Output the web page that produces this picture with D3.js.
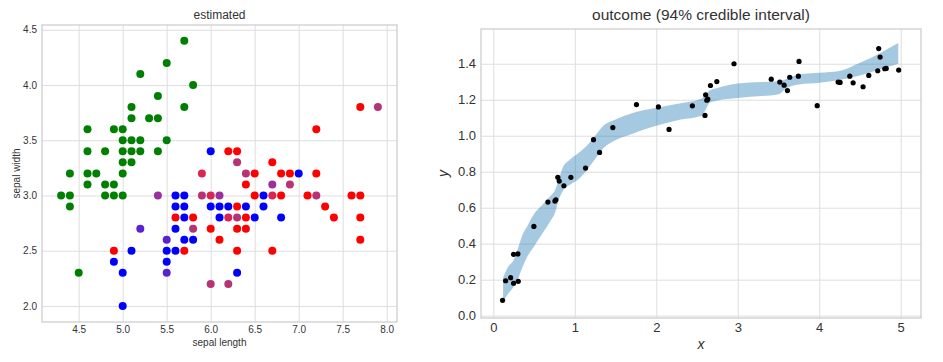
<!DOCTYPE html>
<html>
<head>
<meta charset="utf-8">
<script src="https://cdn.jsdelivr.net/npm/d3@7"></script>
<style>
  body { margin: 0; background: #fff; }
  text { font-family: "Liberation Sans", Arial, sans-serif; fill: #333; }
  .grid line { stroke: #dedede; stroke-width: 1; }
  .grid .domain { display: none; }
</style>
</head>
<body>
<div id="chart"></div>
<script>
var svgWidth = 943;
var svgHeight = 362;

// left panel: sepal length / width, colour = estimated cluster
var sepalLength = [
  5.7, 5.5, 5.2, 5.8, 5.4, 5.7, 5.1, 5.1, 5.3, 5.4, 4.6, 4.9, 5.0, 5.0, 5.1, 5.2, 5.5,
  4.6, 4.8, 5.0, 5.1, 5.2, 5.4, 5.0, 5.1, 4.4, 4.6, 4.7, 5.0, 4.6, 4.8, 4.9,
  4.3, 4.4, 4.8, 4.9, 5.0, 4.4, 4.5,
  7.7, 7.9, 7.2, 6.0, 6.2, 6.3, 6.3, 6.7,
  5.9, 6.4, 6.5, 6.8, 6.9, 7.0, 7.2, 6.4, 6.7, 6.9,
  5.4, 5.6, 5.7, 5.9, 6.0, 6.1, 6.5, 6.6, 6.7, 6.8, 7.1, 7.2, 7.6, 7.7,
  5.6, 5.7, 6.0, 6.1, 6.2, 6.3, 6.4, 6.6, 7.3,
  5.6, 5.7, 5.8, 6.1, 6.2, 6.3, 6.4, 6.5, 6.8, 7.4, 7.7,
  5.2, 5.6, 5.8, 6.0, 6.3, 6.4,
  5.5, 5.7, 5.8, 6.1, 7.7,
  4.9, 5.1, 5.5, 5.6, 5.7, 6.3, 6.7,
  4.9, 5.5, 5.0, 5.5, 6.3, 6.0, 6.2, 5.0
];
var sepalWidth = [
  4.4, 4.2, 4.1, 4.0, 3.9, 3.8, 3.8, 3.7, 3.7, 3.7, 3.6, 3.6, 3.6, 3.5, 3.5, 3.5, 3.5,
  3.4, 3.4, 3.4, 3.4, 3.4, 3.4, 3.3, 3.3, 3.2, 3.2, 3.2, 3.2, 3.1, 3.1, 3.1,
  3.0, 3.0, 3.0, 3.0, 3.0, 2.9, 2.3,
  3.8, 3.8, 3.6, 3.4, 3.4, 3.4, 3.3, 3.3,
  3.2, 3.2, 3.2, 3.2, 3.2, 3.2, 3.2, 3.1, 3.1, 3.1,
  3.0, 3.0, 3.0, 3.0, 3.0, 3.0, 3.0, 3.0, 3.0, 3.0, 3.0, 3.0, 3.0, 3.0,
  2.9, 2.9, 2.9, 2.9, 2.9, 2.9, 2.9, 2.9, 2.9,
  2.8, 2.8, 2.8, 2.8, 2.8, 2.8, 2.8, 2.8, 2.8, 2.8, 2.8,
  2.7, 2.7, 2.7, 2.7, 2.7, 2.7,
  2.6, 2.6, 2.6, 2.6, 2.6,
  2.5, 2.5, 2.5, 2.5, 2.5, 2.5, 2.5,
  2.4, 2.4, 2.3, 2.3, 2.3, 2.2, 2.2, 2.0
];
var cluster = [
  "g","g","g","g","g","g","g","g","g","g","g","g","g","g","g","g","g",
  "g","g","g","g","g","g","g","g","g","g","g","g","g","g","g",
  "g","g","g","g","g","g","g",
  "r","m","r","b","r","r","m","r",
  "c","m","r","r","r","b","r","r","p","m",
  "p","b","b","m","c","p","r","b","c","r","r","m","r","r",
  "b","b","b","b","b","r","b","b","r",
  "r","b","r","b","c","m","r","b","b","r","r",
  "i","b","m","r","r","r",
  "i","b","b","r","r",
  "r","b","b","b","r","r","r",
  "b","b","b","i","b","m","m","b"
];
var clusterColors = { g: "#008000", b: "#0000ff", r: "#ff0000", i: "#5a22d2", p: "#9a2f9e", m: "#b83374", c: "#da2553" };

var leftXTicks = [4.5, 5.0, 5.5, 6.0, 6.5, 7.0, 7.5, 8.0];
var leftYTicks = [2.0, 2.5, 3.0, 3.5, 4.0, 4.5];

// right panel: observations and 94% band
var obsX = [0.114, 0.151, 0.212, 0.249, 0.306, 0.249, 0.302, 0.498, 0.670, 0.756, 0.768, 0.792, 0.809, 0.866, 0.952,
  1.132, 1.230, 1.304, 1.467, 1.757, 2.026, 2.157, 2.443, 2.598, 2.606, 2.620, 2.632, 2.665, 2.743, 2.954,
  3.411, 3.516, 3.569, 3.610, 3.638, 3.744, 3.752, 3.975, 4.232, 4.256, 4.375, 4.416, 4.538, 4.608,
  4.718, 4.730, 4.747, 4.804, 4.822, 4.975];
var obsY = [0.085, 0.194, 0.211, 0.180, 0.191, 0.341, 0.343, 0.496, 0.631, 0.637, 0.644, 0.769, 0.748, 0.722, 0.769,
  0.820, 0.978, 0.907, 1.045, 1.173, 1.160, 1.035, 1.166, 1.113, 1.227, 1.197, 1.203, 1.279, 1.301, 1.400,
  1.314, 1.298, 1.281, 1.251, 1.325, 1.331, 1.413, 1.167, 1.298, 1.296, 1.331, 1.294, 1.272, 1.335,
  1.361, 1.484, 1.437, 1.372, 1.374, 1.365];

var bandX = [0.12, 0.18, 0.25, 0.30, 0.35, 0.42, 0.50, 0.60, 0.70, 0.76, 0.80, 0.85, 0.95, 1.05, 1.15, 1.25, 1.35,
  1.50, 1.70, 2.00, 2.30, 2.55, 2.60, 2.65, 2.75, 3.00, 3.30, 3.50, 3.60, 3.75, 4.00, 4.25, 4.50, 4.75, 4.97];
var bandLow = [0.08, 0.12, 0.16, 0.20, 0.26, 0.33, 0.385, 0.455, 0.525, 0.575, 0.64, 0.69, 0.73, 0.76, 0.81, 0.87, 0.93,
  0.975, 1.01, 1.055, 1.09, 1.11, 1.14, 1.18, 1.195, 1.21, 1.22, 1.23, 1.265, 1.285, 1.295, 1.31, 1.335, 1.37, 1.40];
var bandHigh = [0.21, 0.27, 0.31, 0.37, 0.44, 0.50, 0.565, 0.615, 0.665, 0.70, 0.75, 0.82, 0.87, 0.905, 0.945, 1.00, 1.055,
  1.09, 1.125, 1.155, 1.18, 1.205, 1.225, 1.25, 1.265, 1.29, 1.298, 1.303, 1.315, 1.34, 1.35, 1.36, 1.405, 1.46, 1.515];

var rightXTicks = [0, 1, 2, 3, 4, 5];
var rightYTicks = [0.0, 0.2, 0.4, 0.6, 0.8, 1.0, 1.2, 1.4];

var svg = d3.select("#chart").append("svg")
  .attr("width", svgWidth)
  .attr("height", svgHeight);

// ---------- left panel ----------
var L = { left: 42, right: 397, top: 25, bottom: 322 };
var lw = L.right - L.left, lh = L.bottom - L.top;
var left = svg.append("g").attr("transform", `translate(${L.left}, ${L.top})`);

var xL = d3.scaleLinear().domain([4.083, 8.117]).range([0, lw]);
var yL = d3.scaleLinear().domain([1.855, 4.543]).range([lh, 0]);

left.append("g").attr("class", "grid")
  .attr("transform", `translate(0, ${lh})`)
  .call(d3.axisBottom(xL).tickValues(leftXTicks).tickFormat(d3.format(".1f"))
    .tickSizeInner(-lh).tickSizeOuter(0).tickPadding(4))
  .selectAll("text").style("font-size", "10px");

left.append("g").attr("class", "grid")
  .call(d3.axisLeft(yL).tickValues(leftYTicks).tickFormat(d3.format(".1f"))
    .tickSizeInner(-lw).tickSizeOuter(0).tickPadding(5))
  .selectAll("text").style("font-size", "10px");

left.append("rect")
  .attr("width", lw).attr("height", lh)
  .attr("fill", "none").attr("stroke", "#cccccc").attr("stroke-width", 1.25);

left.selectAll("circle")
  .data(d3.range(sepalLength.length))
  .enter()
  .append("circle")
  .attr("cx", i => xL(sepalLength[i]))
  .attr("cy", i => yL(sepalWidth[i]))
  .attr("r", 4)
  .attr("fill", i => clusterColors[cluster[i]]);

left.append("text")
  .attr("x", lw / 2).attr("y", -6)
  .attr("text-anchor", "middle")
  .style("font-size", "12px")
  .text("estimated");

left.append("text")
  .attr("x", lw / 2).attr("y", lh + 24)
  .attr("text-anchor", "middle")
  .style("font-size", "10px")
  .text("sepal length");

left.append("text")
  .attr("transform", "rotate(-90)")
  .attr("x", -lh / 2).attr("y", -22)
  .attr("text-anchor", "middle")
  .style("font-size", "10px")
  .text("sepal width");

// ---------- right panel ----------
var R = { left: 481, right: 921, top: 29, bottom: 318 };
var rw = R.right - R.left, rh = R.bottom - R.top;
var right = svg.append("g").attr("transform", `translate(${R.left}, ${R.top})`);

var xR = d3.scaleLinear().domain([-0.151, 5.249]).range([0, rw]);
var yR = d3.scaleLinear().domain([-0.013, 1.593]).range([rh, 0]);

right.append("g").attr("class", "grid")
  .attr("transform", `translate(0, ${rh})`)
  .call(d3.axisBottom(xR).tickValues(rightXTicks).tickFormat(d3.format("d"))
    .tickSizeInner(-rh).tickSizeOuter(0).tickPadding(5))
  .selectAll("text").style("font-size", "13px");

right.append("g").attr("class", "grid")
  .call(d3.axisLeft(yR).tickValues(rightYTicks).tickFormat(d3.format(".1f"))
    .tickSizeInner(-rw).tickSizeOuter(0).tickPadding(5))
  .selectAll("text").style("font-size", "13px");

right.append("rect")
  .attr("width", rw).attr("height", rh)
  .attr("fill", "none").attr("stroke", "#cccccc").attr("stroke-width", 1.25);

var band = d3.area()
  .x(i => xR(bandX[i]))
  .y0(i => yR(bandLow[i]))
  .y1(i => yR(bandHigh[i]))
  .curve(d3.curveMonotoneX);

right.append("path")
  .datum(d3.range(bandX.length))
  .attr("d", band)
  .attr("fill", "#1f77b4")
  .attr("fill-opacity", 0.4);

right.selectAll("circle")
  .data(d3.range(obsX.length))
  .enter()
  .append("circle")
  .attr("cx", i => xR(obsX[i]))
  .attr("cy", i => yR(obsY[i]))
  .attr("r", 2.6)
  .attr("fill", "#000");

right.append("text")
  .attr("x", rw / 2).attr("y", -9)
  .attr("text-anchor", "middle")
  .style("font-size", "15.5px")
  .text("outcome (94% credible interval)");

right.append("text")
  .attr("x", rw / 2).attr("y", rh + 31)
  .attr("text-anchor", "middle")
  .style("font-size", "14px")
  .style("font-style", "italic")
  .text("x");

right.append("text")
  .attr("transform", "rotate(-90)")
  .attr("x", -rh / 2).attr("y", -33)
  .attr("text-anchor", "middle")
  .style("font-size", "14px")
  .style("font-style", "italic")
  .text("y");
</script>
</body>
</html>
